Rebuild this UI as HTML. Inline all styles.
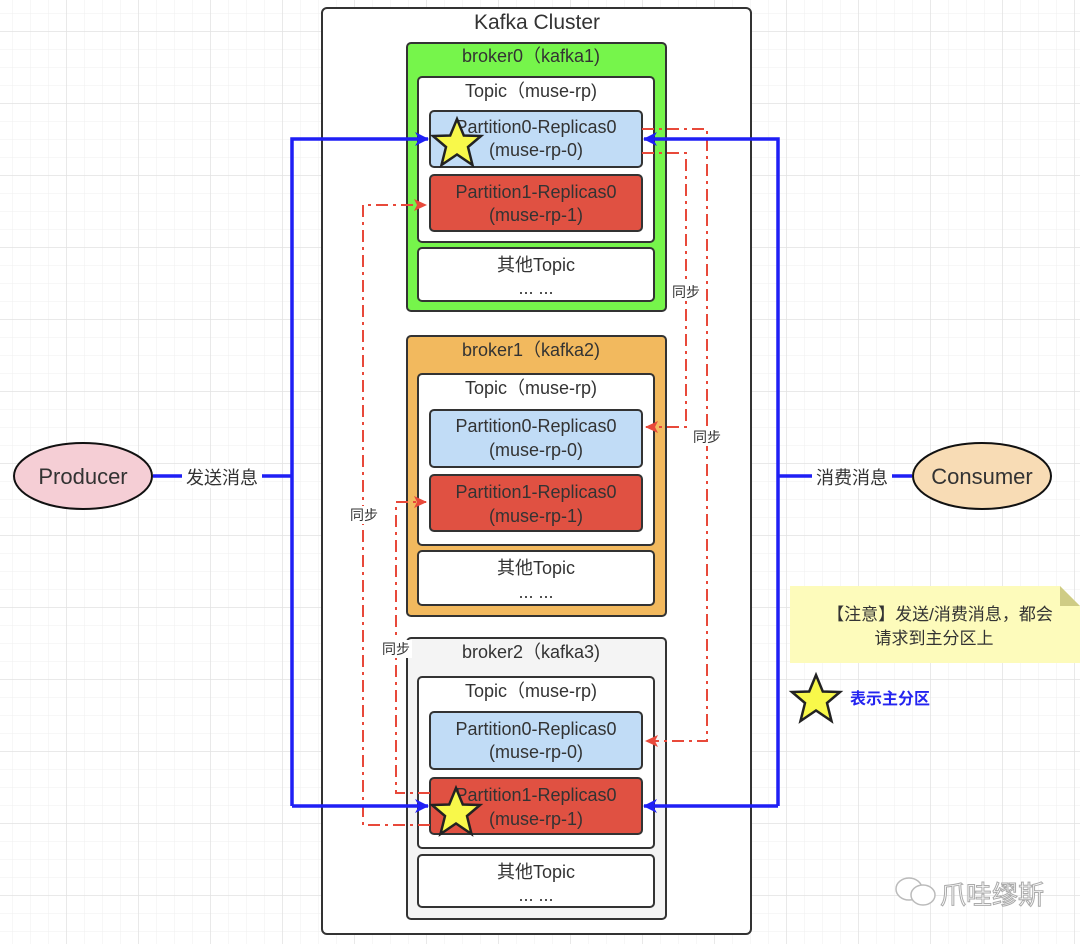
<!DOCTYPE html>
<html><head><meta charset="utf-8"><style>
html,body{margin:0;padding:0;background:#fff}
svg{display:block}
text{font-family:"Liberation Sans","Noto Sans CJK SC",sans-serif;fill:#333}
</style></head><body>
<svg width="1080" height="944" viewBox="0 0 1080 944" xmlns="http://www.w3.org/2000/svg">
<defs>
<pattern id="minor" x="12" y="13" width="18" height="18" patternUnits="userSpaceOnUse"><path d="M0 0H18M0 0V18" stroke="#efefef" stroke-width="1" fill="none"/></pattern>
<pattern id="major" x="66" y="31" width="72" height="72" patternUnits="userSpaceOnUse"><path d="M0 0H72M0 0V72" stroke="#e2e2e2" stroke-width="1.5" fill="none"/></pattern>
<marker id="ab" markerWidth="14" markerHeight="14" refX="13" refY="7" orient="auto" markerUnits="userSpaceOnUse"><path d="M0 0L14 7L0 14L4 7Z" fill="#1f1ff5"/></marker>
<marker id="ar" markerWidth="13" markerHeight="12" refX="12" refY="6" orient="auto" markerUnits="userSpaceOnUse"><path d="M0 0L13 6L0 12L3 6Z" fill="#e8493a"/></marker>
<polygon id="star" points="0,-25 6.8,-8.5 24,-8 11,3 15.5,21 0,10.5 -15.5,21 -11,3 -24,-8 -6.8,-8.5" fill="#f8f84a" stroke="#222" stroke-width="2.5" stroke-linejoin="miter"/>
</defs>
<rect width="1080" height="944" fill="url(#minor)"/>
<rect width="1080" height="944" fill="url(#major)"/>

<rect x="322" y="8" width="429" height="926" rx="5" fill="#fff" stroke="#333" stroke-width="2"/>
<text x="537" y="29" font-size="21" text-anchor="middle">Kafka Cluster</text>

<g font-size="18" text-anchor="middle">
<rect x="407" y="43" width="259" height="268" rx="4" fill="#76f54b" stroke="#333" stroke-width="2"/>
<text x="531" y="62">broker0（kafka1)</text>
<rect x="418" y="77" width="236" height="165" rx="4" fill="#fff" stroke="#333" stroke-width="2"/>
<text x="531" y="97">Topic（muse-rp)</text>
<rect x="430" y="111" width="212" height="56" rx="4" fill="#c1dcf6" stroke="#333" stroke-width="2"/>
<text x="536" y="133">Partition0-Replicas0</text><text x="536" y="156">(muse-rp-0)</text>
<rect x="430" y="175" width="212" height="56" rx="4" fill="#e05142" stroke="#333" stroke-width="2"/>
<text x="536" y="198">Partition1-Replicas0</text><text x="536" y="221">(muse-rp-1)</text>
<rect x="418" y="248" width="236" height="53" rx="4" fill="#fff" stroke="#333" stroke-width="2"/>
<text x="536" y="271">其他Topic</text><text x="536" y="294">... ...</text>

<rect x="407" y="336" width="259" height="280" rx="4" fill="#f2b95e" stroke="#333" stroke-width="2"/>
<text x="531" y="356">broker1（kafka2)</text>
<rect x="418" y="374" width="236" height="171" rx="4" fill="#fff" stroke="#333" stroke-width="2"/>
<text x="531" y="394">Topic（muse-rp)</text>
<rect x="430" y="410" width="212" height="57" rx="4" fill="#c1dcf6" stroke="#333" stroke-width="2"/>
<text x="536" y="432">Partition0-Replicas0</text><text x="536" y="456">(muse-rp-0)</text>
<rect x="430" y="475" width="212" height="56" rx="4" fill="#e05142" stroke="#333" stroke-width="2"/>
<text x="536" y="498">Partition1-Replicas0</text><text x="536" y="522">(muse-rp-1)</text>
<rect x="418" y="551" width="236" height="54" rx="4" fill="#fff" stroke="#333" stroke-width="2"/>
<text x="536" y="574">其他Topic</text><text x="536" y="598">... ...</text>

<rect x="407" y="638" width="259" height="281" rx="4" fill="#f4f4f4" stroke="#333" stroke-width="2"/>
<text x="531" y="658">broker2（kafka3)</text>
<rect x="418" y="677" width="236" height="171" rx="4" fill="#fff" stroke="#333" stroke-width="2"/>
<text x="531" y="697">Topic（muse-rp)</text>
<rect x="430" y="712" width="212" height="57" rx="4" fill="#c1dcf6" stroke="#333" stroke-width="2"/>
<text x="536" y="735">Partition0-Replicas0</text><text x="536" y="758">(muse-rp-0)</text>
<rect x="430" y="778" width="212" height="56" rx="4" fill="#e05142" stroke="#333" stroke-width="2"/>
<text x="536" y="801">Partition1-Replicas0</text><text x="536" y="825">(muse-rp-1)</text>
<rect x="418" y="855" width="236" height="52" rx="4" fill="#fff" stroke="#333" stroke-width="2"/>
<text x="536" y="878">其他Topic</text><text x="536" y="901">... ...</text>
</g>

<g fill="none" stroke="#e8493a" stroke-width="2" stroke-dasharray="12,5,3,5">
<path d="M642 129H707V741H646" marker-end="url(#ar)"/>
<path d="M642 153H686V427H646" marker-end="url(#ar)"/>
<path d="M430 825H363V205H426" marker-end="url(#ar)"/>
<path d="M430 793H396V502H426" marker-end="url(#ar)"/>
</g>
<g font-size="14" text-anchor="middle">
<rect x="670" y="283" width="32" height="18" fill="#fff"/><text x="686" y="297">同步</text>
<rect x="691" y="428" width="32" height="18" fill="#fff"/><text x="707" y="442">同步</text>
<rect x="348" y="506" width="32" height="18" fill="#fff"/><text x="364" y="520">同步</text>
<rect x="380" y="640" width="32" height="18" fill="#fff"/><text x="396" y="654">同步</text>
</g>

<g fill="none" stroke="#1f1ff5" stroke-width="3.5">
<path d="M153 476H292"/>
<path d="M292 806V139H428" marker-end="url(#ab)"/>
<path d="M292 806H428" marker-end="url(#ab)"/>
<path d="M912 476H778"/>
<path d="M778 806V139H644" marker-end="url(#ab)"/>
<path d="M778 806H644" marker-end="url(#ab)"/>
</g>
<rect x="182" y="464" width="80" height="24" fill="#fff"/>
<text x="222" y="484" font-size="18" text-anchor="middle">发送消息</text>
<rect x="812" y="464" width="80" height="24" fill="#fff"/>
<text x="852" y="484" font-size="18" text-anchor="middle">消费消息</text>

<ellipse cx="83" cy="476" rx="69" ry="33" fill="#f5ced5" stroke="#111" stroke-width="2"/>
<text x="83" y="484" font-size="22" text-anchor="middle">Producer</text>
<ellipse cx="982" cy="476" rx="69" ry="33" fill="#f8dcb5" stroke="#111" stroke-width="2"/>
<text x="982" y="484" font-size="22" text-anchor="middle">Consumer</text>

<use href="#star" x="457" y="144"/>
<use href="#star" x="456" y="813"/>

<path d="M790 586H1060L1080 606V663H790Z" fill="#fdfbbb"/>
<path d="M1060 586L1080 606H1060Z" fill="#cfcc85"/>
<text x="940" y="620" font-size="17" text-anchor="middle">【注意】发送/消费消息，都会</text>
<text x="934" y="644" font-size="17" text-anchor="middle">请求到主分区上</text>
<use href="#star" x="816" y="700"/>
<text x="850" y="704" font-size="16" font-weight="bold" style="fill:#2424f0">表示主分区</text>

<g fill="#fff" stroke="#bbb" stroke-width="1.5">
<ellipse cx="909" cy="889" rx="13" ry="11"/>
<ellipse cx="923" cy="895" rx="12" ry="10"/>
</g>
<text x="940" y="904" font-size="26" style="fill:#fff;stroke:#aaa;stroke-width:1">爪哇缪斯</text>
</svg>
</body></html>
